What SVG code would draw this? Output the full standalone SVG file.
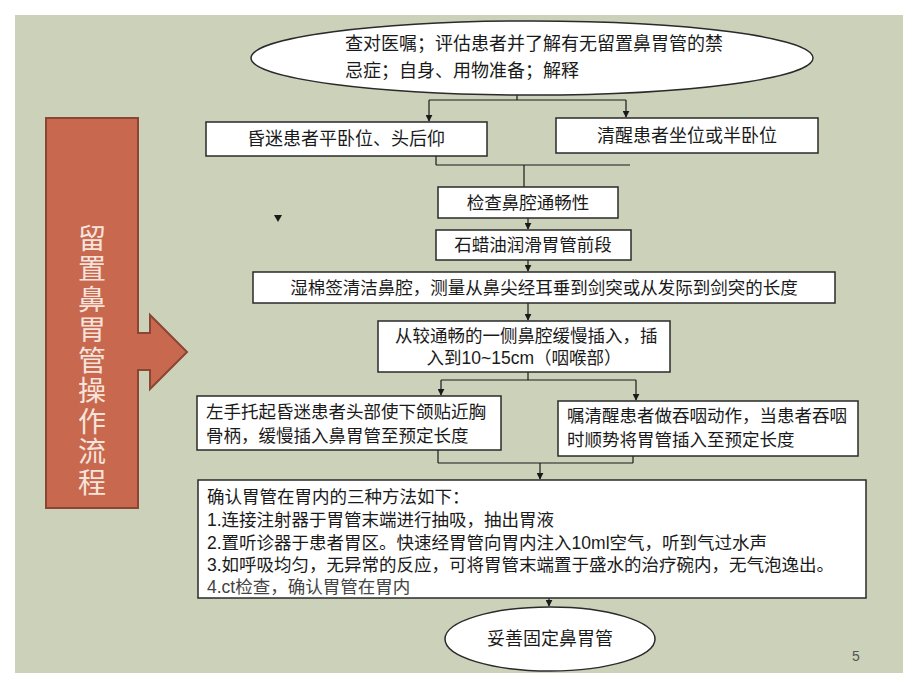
<svg xmlns="http://www.w3.org/2000/svg" width="920" height="690" viewBox="0 0 920 690">
<defs>
<marker id="ah" viewBox="0 0 10 10" refX="9" refY="5" markerWidth="7" markerHeight="7" markerUnits="userSpaceOnUse" orient="auto">
<path d="M0,0 L10,5 L0,10 z" fill="#1a1a1a"/>
</marker>
<style>
.bx{fill:#ffffff;stroke:#2a2a2a;stroke-width:1.5}
.t{font-family:"Liberation Sans","Noto Sans CJK SC",sans-serif;font-size:17.5px;fill:#1a1a1a}
.c{stroke:#1a1a1a;stroke-width:1.2;fill:none}
.ca{stroke:#1a1a1a;stroke-width:1.2;fill:none;marker-end:url(#ah)}
</style>
</defs>
<rect x="0" y="0" width="920" height="690" fill="#ffffff"/>
<rect x="15" y="15" width="888" height="658" fill="#CCD1BA"/>

<g id="title">
<rect x="46" y="118" width="92" height="390" fill="#C8694F" stroke="#8A4632" stroke-width="2"/>
<path d="M137,333 L150,333 L150,315 L187,352 L150,389 L150,370 L137,370" fill="#C8694F" stroke="#8A4632" stroke-width="2"/>
<rect x="132" y="334" width="10" height="35" fill="#C8694F"/>
<text x="92" y="224" writing-mode="vertical-rl" style="font-family:'Noto Sans CJK SC',sans-serif;font-size:28px;letter-spacing:2.5px;fill:#F6E4DC">留置鼻胃管操作流程</text>
</g>

<g id="connectors">
<line class="c" x1="517" y1="94" x2="517" y2="100"/>
<line class="c" x1="429" y1="100" x2="626" y2="100"/>
<line class="ca" x1="429" y1="100" x2="429" y2="121"/>
<line class="ca" x1="626" y1="100" x2="626" y2="117"/>
<line class="c" x1="436" y1="156" x2="436" y2="165"/>
<line class="c" x1="436" y1="165" x2="630" y2="165"/>
<line class="c" x1="524" y1="165" x2="524" y2="187"/>
<line class="ca" x1="528" y1="218" x2="528" y2="229"/>
<line class="ca" x1="528" y1="260" x2="528" y2="271"/>
<line class="ca" x1="528" y1="303" x2="528" y2="320"/>
<line class="c" x1="528" y1="372" x2="528" y2="380"/>
<line class="c" x1="441" y1="380" x2="636" y2="380"/>
<line class="ca" x1="441" y1="380" x2="441" y2="395"/>
<line class="ca" x1="636" y1="380" x2="636" y2="400"/>
<line class="c" x1="438" y1="450" x2="438" y2="463"/>
<line class="c" x1="438" y1="463" x2="633" y2="463"/>
<line class="c" x1="633" y1="456" x2="633" y2="463"/>
<line class="ca" x1="540" y1="463" x2="540" y2="479"/>
<line class="ca" x1="549" y1="598" x2="549" y2="606"/>
<path d="M274,215 L282,215 L278,222 z" fill="#1a1a1a"/>
</g>

<g id="n1">
<ellipse cx="532" cy="58" rx="281" ry="37" class="bx"/>
<text class="t" x="345" y="44" dominant-baseline="central" style="font-size:18px">查对医嘱；评估患者并了解有无留置鼻胃管的禁</text>
<text class="t" x="345" y="71" dominant-baseline="central" style="font-size:18px">忌症；自身、用物准备；解释</text>
</g>
<g id="n2">
<rect x="206" y="122" width="281" height="34" class="bx"/>
<text class="t" x="346" y="139" text-anchor="middle" dominant-baseline="central" style="font-size:18px">昏迷患者平卧位、头后仰</text>
</g>
<g id="n3">
<rect x="556" y="118" width="262" height="35" class="bx"/>
<text class="t" x="687" y="135.5" text-anchor="middle" dominant-baseline="central" style="font-size:18px">清醒患者坐位或半卧位</text>
</g>
<g id="n4">
<rect x="438" y="187" width="180" height="31" class="bx"/>
<text class="t" x="528" y="202.5" text-anchor="middle" dominant-baseline="central">检查鼻腔通畅性</text>
</g>
<g id="n5">
<rect x="436" y="230" width="195" height="30" class="bx"/>
<text class="t" x="533" y="245" text-anchor="middle" dominant-baseline="central">石蜡油润滑胃管前段</text>
</g>
<g id="n6">
<rect x="253" y="272" width="582" height="31" class="bx"/>
<text class="t" x="544" y="287.5" text-anchor="middle" dominant-baseline="central">湿棉签清洁鼻腔，测量从鼻尖经耳垂到剑突或从发际到剑突的长度</text>
</g>
<g id="n7">
<rect x="378" y="321" width="292" height="51" class="bx"/>
<text class="t" x="395" y="336" dominant-baseline="central">从较通畅的一侧鼻腔缓慢插入，插</text>
<text class="t" x="524" y="358" text-anchor="middle" dominant-baseline="central">入到10~15cm（咽喉部）</text>
</g>
<g id="n8">
<rect x="197" y="396" width="304" height="54" class="bx"/>
<text class="t" x="206" y="412" dominant-baseline="central">左手托起昏迷患者头部使下颌贴近胸</text>
<text class="t" x="206" y="436" dominant-baseline="central">骨柄，缓慢插入鼻胃管至预定长度</text>
</g>
<g id="n9">
<rect x="558" y="401" width="300" height="55" class="bx"/>
<text class="t" x="567" y="416" dominant-baseline="central">嘱清醒患者做吞咽动作，当患者吞咽</text>
<text class="t" x="567" y="440" dominant-baseline="central">时顺势将胃管插入至预定长度</text>
</g>
<g id="n10">
<rect x="198" y="480" width="668" height="118" class="bx"/>
<text class="t" x="207" y="497" dominant-baseline="central">确认胃管在胃内的三种方法如下：</text>
<text class="t" x="207" y="520" dominant-baseline="central">1.连接注射器于胃管末端进行抽吸，抽出胃液</text>
<text class="t" x="207" y="543" dominant-baseline="central">2.置听诊器于患者胃区。快速经胃管向胃内注入10ml空气，听到气过水声</text>
<text class="t" x="207" y="565" dominant-baseline="central">3.如呼吸均匀，无异常的反应，可将胃管末端置于盛水的治疗碗内，无气泡逸出。</text>
<text class="t" x="207" y="587" dominant-baseline="central" style="fill:#444">4.ct检查，确认胃管在胃内</text>
</g>
<g id="n11">
<ellipse cx="550" cy="639" rx="105" ry="32" class="bx"/>
<text class="t" x="550" y="639" text-anchor="middle" dominant-baseline="central" style="font-size:18px">妥善固定鼻胃管</text>
</g>
<text x="856" y="656" style="font-family:'Liberation Sans',sans-serif;font-size:14px;fill:#555" text-anchor="middle" dominant-baseline="central">5</text>
</svg>
